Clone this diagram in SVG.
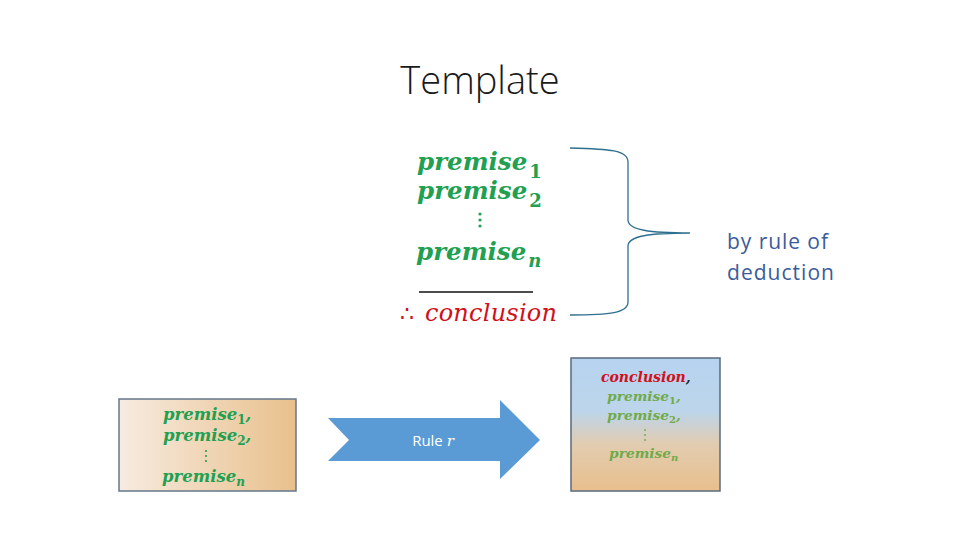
<svg xmlns="http://www.w3.org/2000/svg" width="960" height="540" viewBox="0 0 960 540">
<defs>
<style>
.m{font-family:"DejaVu Serif","Liberation Serif",serif;font-style:italic;font-weight:bold}
.g{fill:#21a052}
.g2{fill:#6faa4c}
.r{fill:#d0101a}
.sub{font-style:normal;font-weight:bold}
.sans{font-family:"Open Sans","Liberation Sans",sans-serif}
</style>
<linearGradient id="lg" x1="0" y1="0" x2="1" y2="0">
<stop offset="0" stop-color="#f7ebe0"/>
<stop offset="1" stop-color="#e8c08c"/>
</linearGradient>
<linearGradient id="rg" x1="0" y1="0" x2="0" y2="1">
<stop offset="0" stop-color="#b6d3ef"/>
<stop offset="0.4" stop-color="#bcd5ea"/>
<stop offset="0.65" stop-color="#e2ccb0"/>
<stop offset="1" stop-color="#e8bf8c"/>
</linearGradient>
</defs>
<rect width="960" height="540" fill="#ffffff"/>
<g id="title"><text x="480" y="94" text-anchor="middle" class="sans" font-size="38" font-weight="300" fill="#1a1a1a">Template</text></g>
<g id="template">
<text x="417" y="170" class="m g" font-size="24.5">premise<tspan class="sub" font-size="18" dx="2" dy="8">1</tspan></text>
<text x="417" y="199" class="m g" font-size="24.5">premise<tspan class="sub" font-size="18" dx="2" dy="8">2</tspan></text>
<g class="g"><circle cx="480" cy="214" r="1.6"/><circle cx="480" cy="220" r="1.6"/><circle cx="480" cy="226" r="1.6"/></g>
<text x="416" y="260" class="m g" font-size="24.5">premise<tspan font-size="18" dx="2" dy="7">n</tspan></text>
<line x1="419" y1="292" x2="533" y2="292" stroke="#111" stroke-width="1.5"/>
<text x="400" y="321" font-family="DejaVu Serif,serif" font-size="22" class="r">∴</text>
<text x="425" y="321" font-family="DejaVu Serif,serif" font-style="italic" font-size="24" class="r" textLength="132">conclusion</text>
</g>
<g id="brace">
<path d="M570 148 C610 149 628 150 628 162 L628 220 C628 230 650 233 690 233 C650 233 628 236 628 246 L628 302 C628 313 610 315 570 315" fill="none" stroke="#2f6f8f" stroke-width="1.3"/>
</g>
<g id="label"><text class="sans" font-size="21" fill="#3b5c9c"><tspan x="727" y="249" textLength="101">by rule of</tspan><tspan x="727" y="280" textLength="107">deduction</tspan></text></g>
<g id="left-box">
<rect x="119" y="399" width="177" height="92" fill="url(#lg)" stroke="#66778a" stroke-width="1.5"/>
<g class="m g" font-size="16.5">
<text x="163" y="420">premise<tspan class="sub" font-size="12" dy="4">1</tspan><tspan dy="-4">,</tspan></text>
<text x="163" y="441">premise<tspan class="sub" font-size="12" dy="4">2</tspan><tspan dy="-4">,</tspan></text>
<text x="162" y="482">premise<tspan font-size="12" dy="4">n</tspan></text>
</g>
<g class="g"><circle cx="206" cy="451" r="1.1"/><circle cx="206" cy="456" r="1.1"/><circle cx="206" cy="461" r="1.1"/></g>
</g>
<g id="connectors">
<path d="M328 418 L500 418 L500 400 L540 440 L500 479 L500 461 L328 461 L349 440 Z" fill="#5b9bd5"/>
<text x="433" y="446" text-anchor="middle" class="sans" font-size="15" fill="#ffffff">Rule <tspan font-family="DejaVu Serif,serif" font-style="italic">r</tspan></text>
</g>
<g id="right-box">
<rect x="571" y="358" width="149" height="133" fill="url(#rg)" stroke="#5a6a7e" stroke-width="1.5"/>
<text x="601" y="382" class="m" font-size="14"><tspan class="r">conclusion</tspan><tspan fill="#222">,</tspan></text>
<g class="m g2" font-size="13.8">
<text x="607" y="401">premise<tspan class="sub" font-size="10" dy="3">1</tspan><tspan dy="-3">,</tspan></text>
<text x="607" y="420">premise<tspan class="sub" font-size="10" dy="3">2</tspan><tspan dy="-3">,</tspan></text>
<text x="609" y="458">premise<tspan font-size="10" dy="3">n</tspan></text>
</g>
<g class="g2"><circle cx="645" cy="430" r="0.9"/><circle cx="645" cy="435" r="0.9"/><circle cx="645" cy="440" r="0.9"/></g>
</g>
</svg>
